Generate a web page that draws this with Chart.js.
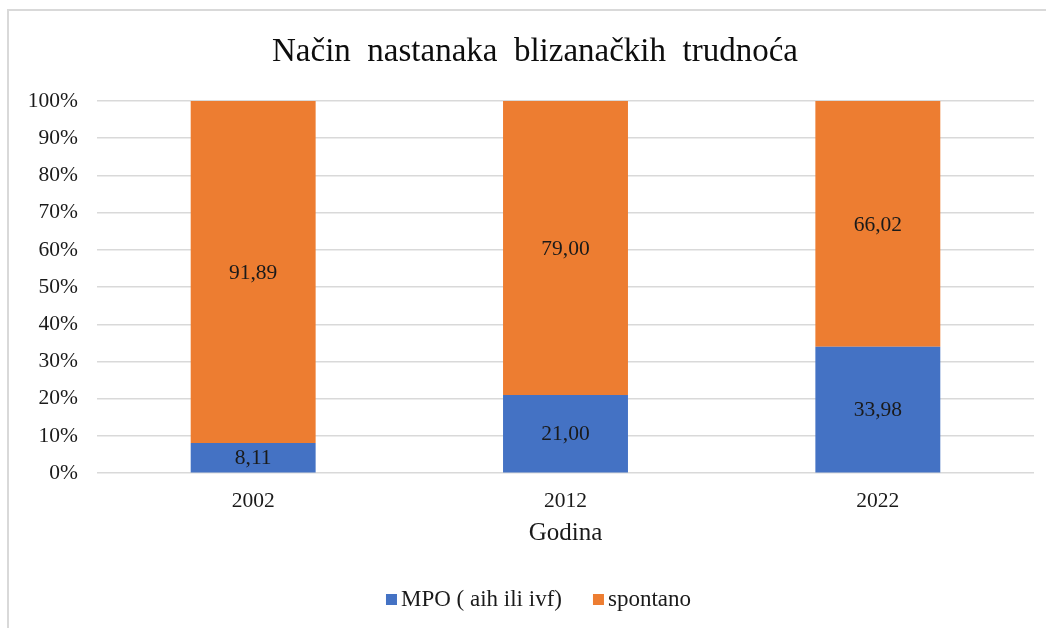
<!DOCTYPE html>
<html>
<head>
<meta charset="utf-8">
<script src="https://cdn.jsdelivr.net/npm/chart.js@4/dist/chart.umd.min.js"></script>
<style>
  html, body { margin:0; padding:0; background:#fff; }
  .wrap { position:relative; width:1046px; height:628px; overflow:hidden; }
  .frame { position:absolute; left:7px; top:9px; width:1100px; height:700px;
           border-left:2px solid #d9d9d9; border-top:2px solid #d9d9d9; }
  canvas { position:absolute; left:0; top:0; }
</style>
</head>
<body>
<div class="wrap">
  <div class="frame"></div>
  <canvas id="c" width="1046" height="628"></canvas>
</div>
<script>
const years = ['2002', '2012', '2022'];
const mpo = [8.11, 21.00, 33.98];
const spontano = [91.89, 79.00, 66.02];
const yTicks = [0, 10, 20, 30, 40, 50, 60, 70, 80, 90, 100];
const chartTitle = 'Način  nastanaka  blizanačkih  trudnoća';

const SERIF = '"Liberation Serif", "Times New Roman", serif';
const TXT = '#1a1a1a';
const fmt = v => v.toFixed(2).replace('.', ',');

// values written in the middle of each segment
const segLabels = {
  id: 'segLabels',
  afterDatasetsDraw(chart) {
    const ctx = chart.ctx;
    ctx.save();
    ctx.font = '21.5px ' + SERIF;
    ctx.fillStyle = TXT;
    ctx.textAlign = 'center';
    ctx.textBaseline = 'middle';
    chart.data.datasets.forEach((ds, i) => {
      chart.getDatasetMeta(i).data.forEach((el, j) => {
        const p = el.getProps(['x', 'y', 'base'], true);
        ctx.fillText(fmt(ds.data[j]), p.x, (p.y + p.base) / 2 + 1);
      });
    });
    ctx.restore();
  }
};

// title and excel-like legend, placed like the original
const frameText = {
  id: 'frameText',
  afterDraw(chart) {
    const ctx = chart.ctx;
    ctx.save();
    ctx.font = '33px ' + SERIF;
    ctx.fillStyle = '#0d0d0d';
    ctx.textAlign = 'center';
    ctx.textBaseline = 'middle';
    ctx.fillText(chartTitle, 535, 52);

    const box = 11, gap = 4, itemGap = 31, cy = 600;
    ctx.font = '23px ' + SERIF;
    ctx.textAlign = 'left';
    const items = chart.data.datasets.map(ds => ({
      text: ds.label, color: ds.backgroundColor, w: ctx.measureText(ds.label).width }));
    const total = items.reduce((s, it) => s + box + gap + it.w, 0) + itemGap * (items.length - 1);
    let x = 538.5 - total / 2;
    items.forEach(it => {
      ctx.fillStyle = it.color;
      ctx.fillRect(x, cy - box / 2 - 0.5, box, box);
      x += box + gap;
      ctx.fillStyle = TXT;
      ctx.fillText(it.text, x, cy);
      x += it.w + itemGap;
    });
    ctx.restore();
  }
};

new Chart(document.getElementById('c').getContext('2d'), {
  type: 'bar',
  data: {
    labels: years,
    datasets: [
      { label: 'MPO ( aih ili ivf)', data: mpo, backgroundColor: '#4472C4' },
      { label: 'spontano', data: spontano, backgroundColor: '#ED7D31' }
    ]
  },
  options: {
    responsive: false,
    animation: false,
    devicePixelRatio: 1,
    barPercentage: 0.8,
    categoryPercentage: 0.5,
    layout: { padding: { left: 20, right: 12, top: 101, bottom: 80 } },
    plugins: {
      title: { display: false },
      legend: { display: false },
      tooltip: { enabled: false }
    },
    scales: {
      x: { stacked: true,
        grid: { display: false, drawTicks: false }, border: { display: false },
        ticks: { font: { family: SERIF, size: 21.5 }, color: TXT, padding: 15 },
        title: { display: true, text: 'Godina', font: { family: SERIF, size: 25 },
          color: TXT, padding: { top: -11, bottom: 0 } } },
      y: { stacked: true, min: 0, max: 100,
        afterBuildTicks: s => { s.ticks = yTicks.map(v => ({ value: v })); },
        grid: { color: '#d9d9d9', lineWidth: 1.5, drawTicks: false },
        border: { display: false },
        ticks: { font: { family: SERIF, size: 21.5 }, color: TXT, padding: 19,
          callback: v => v + '%' },
        afterFit: s => { s.width = 77; } }
    }
  },
  plugins: [segLabels, frameText]
});
</script>
</body>
</html>
